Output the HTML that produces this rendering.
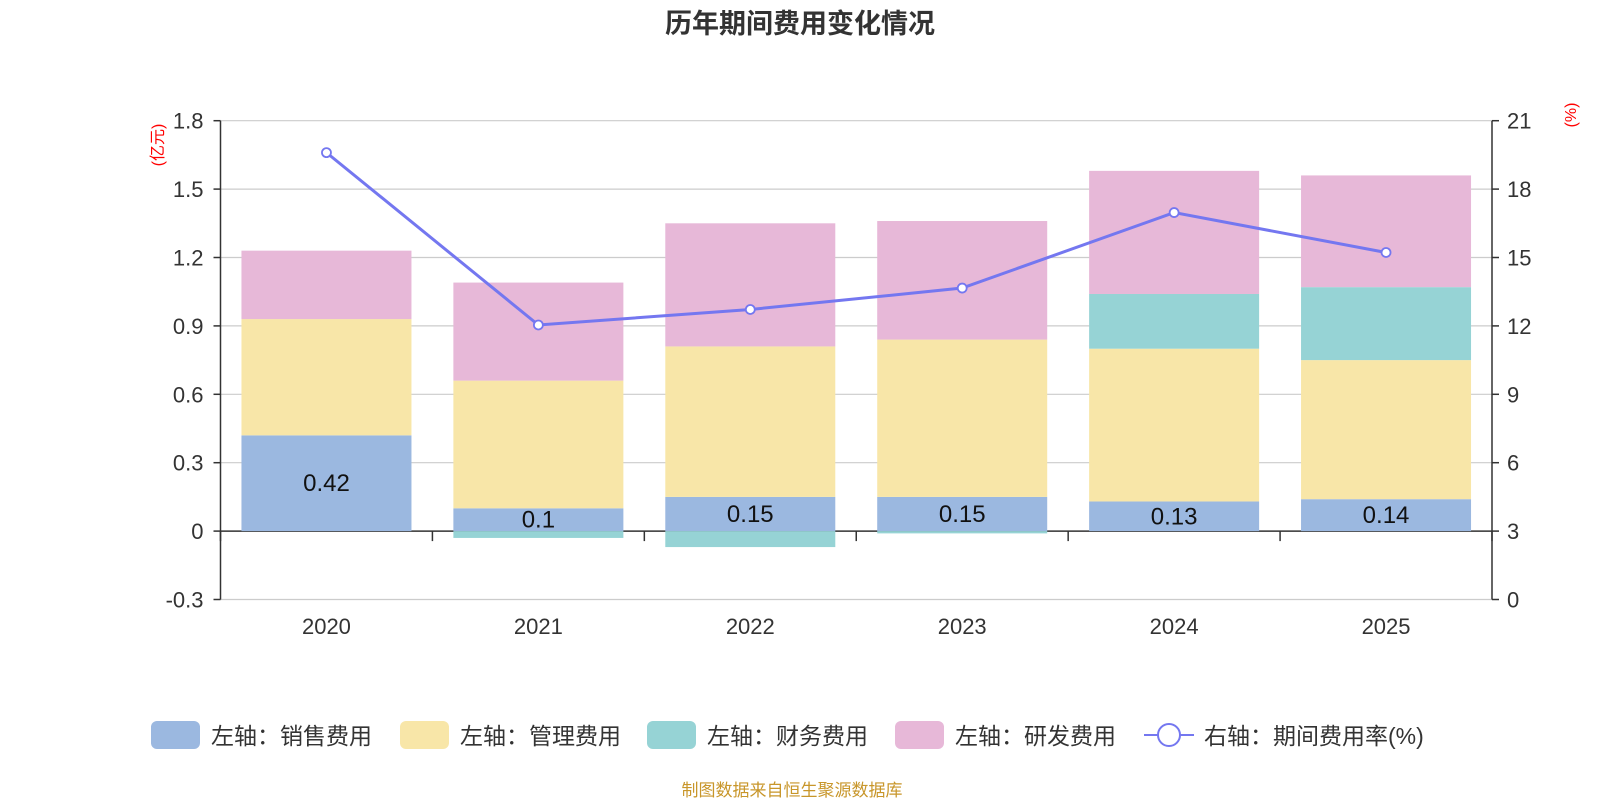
<!DOCTYPE html>
<html><head><meta charset="utf-8">
<style>
body{margin:0;width:1600px;height:800px;background:#fff;overflow:hidden;font-family:"Liberation Sans","Noto Sans CJK SC",sans-serif;}
</style></head>
<body>
<svg id="chart" width="1600" height="800" xmlns="http://www.w3.org/2000/svg" font-family="Liberation Sans, Noto Sans CJK SC, sans-serif">
<text x="800" y="33" text-anchor="middle" font-size="27" font-weight="bold" fill="#333">历年期间费用变化情况</text>
<text transform="translate(163,145) rotate(-90)" text-anchor="middle" font-size="16" fill="red">(亿元)</text>
<text transform="translate(1576,115) rotate(-90)" text-anchor="middle" font-size="16" fill="red">(%)</text>
<g id="grid"></g><g id="bars"></g><g id="axes"></g><g id="line"></g><g id="legend"></g>
<text x="792" y="796" text-anchor="middle" font-size="17" fill="#c8962a">制图数据来自恒生聚源数据库</text>
</svg>
<script>
const categories=["2020","2021","2022","2023","2024","2025"];
const sales=[0.42,0.10,0.15,0.15,0.13,0.14];
const mgmt=[0.51,0.56,0.66,0.69,0.67,0.61];
const finance=[0,-0.03,-0.07,-0.01,0.24,0.32];
const rnd=[0.30,0.43,0.54,0.52,0.54,0.49];
const rate=[19.6,12.04,12.72,13.66,16.97,15.22];
const leftTicks=[-0.3,0,0.3,0.6,0.9,1.2,1.5,1.8];
const rightTicks=[0,3,6,9,12,15,18,21];
const NS="http://www.w3.org/2000/svg";
const X0=220.5,X1=1492,YT=120.7,YB=599.5;
const yL=v=>YB-(v+0.3)/2.1*(YB-YT);
const yR=v=>YB-v/21*(YB-YT);
const bw=(X1-X0)/categories.length;
const xc=i=>X0+bw*(i+0.5);
function mk(tag,attrs,parent){const e=document.createElementNS(NS,tag);for(const k in attrs)e.setAttribute(k,attrs[k]);document.getElementById(parent).appendChild(e);return e;}
leftTicks.forEach((t,i)=>{
 const g=mk('line',{x1:X0,x2:X1,y1:yL(t),y2:yL(t),stroke:t===0?'#333':'#ccc','stroke-width':t===0?1.5:1.2},'grid');
 
 
 const l=mk('text',{x:X0-17,y:yL(t)+8,'text-anchor':'end','font-size':22,fill:'#333'},'axes');
 
 
 l.textContent=String(t);
 mk('line',{x1:X0-7,x2:X0,y1:yL(t),y2:yL(t),stroke:'#333','stroke-width':1.5},'axes');
});
rightTicks.forEach(t=>{
 const l=mk('text',{x:X1+15,y:yR(t)+8,'font-size':22,fill:'#333'},'axes');
 
 
 l.textContent=String(t);
 mk('line',{x1:X1,x2:X1+7,y1:yR(t),y2:yR(t),stroke:'#333','stroke-width':1.5},'axes');
});
mk('line',{x1:X0,x2:X0,y1:YT,y2:YB,stroke:'#333','stroke-width':1.5},'axes');
mk('line',{x1:X1,x2:X1,y1:YT,y2:YB,stroke:'#333','stroke-width':1.5},'axes');
for(let i=0;i<=categories.length;i++)mk('line',{x1:X0+bw*i,x2:X0+bw*i,y1:yL(0),y2:yL(0)+10,stroke:'#333','stroke-width':1.5},'axes');
const series=[[sales,'#9bb8e0','bar-sales'],[mgmt,'#f8e6a8','bar-management'],[finance,'#96d3d5','bar-finance'],[rnd,'#e7b8d8','bar-rnd']];
categories.forEach((c,i)=>{
 let pos=0,neg=0;const w=170;
 series.forEach(([arr,col,name])=>{
  const v=arr[i];let a,b;
  if(v>=0){a=pos;b=pos+v;pos=b;}else{a=neg+v;b=neg;neg=a;}
  const r=mk('rect',{x:xc(i)-w/2,y:yL(b),width:w,height:Math.max(0,yL(a)-yL(b)),fill:col},'bars');
  
  
 });
 const t=mk('text',{x:xc(i),y:yL(sales[i]/2)+8,'text-anchor':'middle','font-size':24,fill:'#111'},'bars');
 
 
 t.textContent=String(sales[i]);
 const xl=mk('text',{x:xc(i),y:634,'text-anchor':'middle','font-size':22,fill:'#333'},'axes');
 
 
 xl.textContent=c;
});
const pl=mk('polyline',{points:rate.map((v,i)=>xc(i)+','+yR(v)).join(' '),fill:'none',stroke:'#7477f0','stroke-width':3},'line');


rate.forEach((v,i)=>{
 const p=mk('circle',{cx:xc(i),cy:yR(v),r:4.5,fill:'#fff',stroke:'#7477f0','stroke-width':1.8},'line');
 
 
});
const leg=[['左轴：销售费用','#9bb8e0',151],['左轴：管理费用','#f8e6a8',400],['左轴：财务费用','#96d3d5',647],['左轴：研发费用','#e7b8d8',895]];
leg.forEach(([t,c,x])=>{
 const r=mk('rect',{x:x,y:721,width:49,height:28,rx:6,fill:c},'legend');
 
 
 const tx=mk('text',{x:x+60,y:744,'font-size':23,fill:'#333'},'legend');
 
 
 tx.textContent=t;
});
mk('line',{x1:1144,x2:1194,y1:735,y2:735,stroke:'#7477f0','stroke-width':2},'legend');
const lc=mk('circle',{cx:1169,cy:735,r:11,fill:'#fff',stroke:'#7477f0','stroke-width':2},'legend');


const lt=mk('text',{x:1204,y:744,'font-size':23,fill:'#333'},'legend');


lt.textContent='右轴：期间费用率(%)';
</script>
</body></html>
